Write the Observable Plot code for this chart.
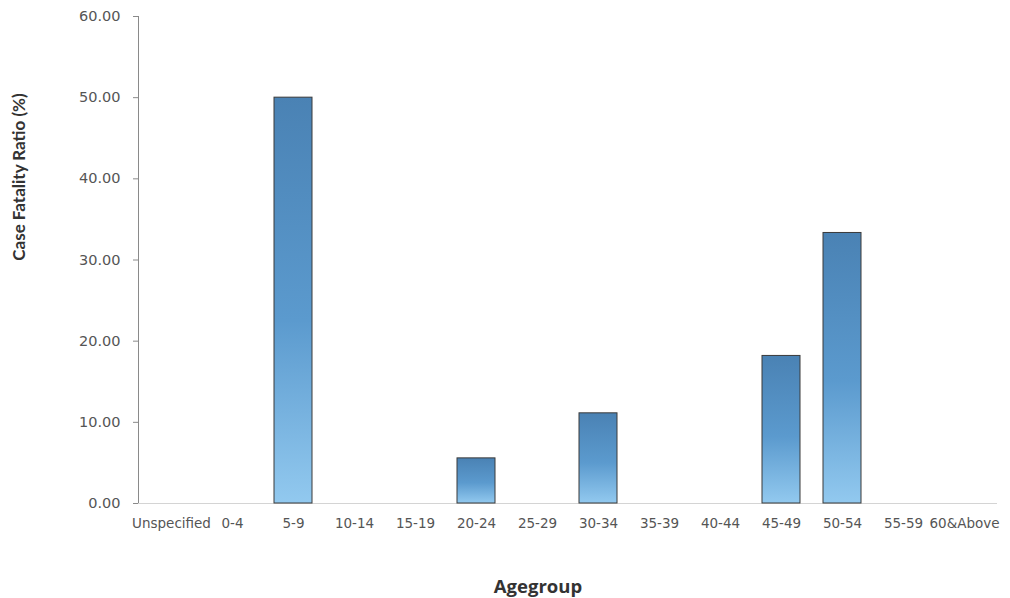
<!DOCTYPE html>
<html>
<head>
<meta charset="utf-8">
<script src="https://cdn.jsdelivr.net/npm/d3@7"></script>
<script src="https://cdn.jsdelivr.net/npm/@observablehq/plot@0.6"></script>
<style>
  html, body { margin: 0; padding: 0; background: #fff; }
  #chart { width: 1010px; height: 598px; }
</style>
</head>
<body>
<div id="chart"></div>
<script>
const ageGroups = ["Unspecified", "0-4", "5-9", "10-14", "15-19", "20-24", "25-29", "30-34", "35-39", "40-44", "45-49", "50-54", "55-59", "60&Above"];
const cfr = [0, 0, 50.00, 0, 0, 5.56, 0, 11.11, 0, 0, 18.18, 33.33, 0, 0];
const yTicks = [0, 10, 20, 30, 40, 50, 60];
const xTitle = "Agegroup";
const yTitle = "Case Fatality Ratio (%)";

const data = ageGroups.map((g, i) => ({group: g, value: cfr[i]}));

const svg = Plot.plot({
  width: 1010,
  height: 598,
  marginLeft: 138,
  marginRight: 13,
  marginTop: 16,
  marginBottom: 95,
  style: {fontFamily: "'DejaVu Sans', sans-serif", fontSize: "14px", color: "#555", background: "#fff"},
  x: {domain: ageGroups, paddingInner: 0.38, paddingOuter: 0.19, label: null},
  y: {domain: [0, 60], label: null},
  marks: [
    Plot.ruleY([0], {stroke: "#d4d4d4", strokeWidth: 1}),
    Plot.barY(data.filter(d => d.value > 0), {x: "group", y: "value", fill: "url(#barGrad)", stroke: "#3a3a3a", strokeWidth: 1}),
    Plot.axisX({tickSize: 0, tickPadding: 15, label: null, fontSize: 13.5}),
    Plot.axisY({ticks: yTicks, tickSize: 5, tickPadding: 13, tickFormat: d => d.toFixed(2), label: null, fontSize: 14.5})
  ]
});

// gradient definition for bars
const ns = "http://www.w3.org/2000/svg";
const defs = document.createElementNS(ns, "defs");
defs.innerHTML = `<linearGradient id="barGrad" x1="0" y1="0" x2="0" y2="1">
  <stop offset="0%" stop-color="#4a82b4"/>
  <stop offset="55%" stop-color="#5b9ace"/>
  <stop offset="100%" stop-color="#92c9ef"/>
</linearGradient>`;
svg.insertBefore(defs, svg.firstChild);

const sel = d3.select(svg);
// y axis line
sel.append("line")
  .attr("x1", 138.5).attr("x2", 138.5)
  .attr("y1", 16).attr("y2", 503)
  .attr("stroke", "#8a8a8a").attr("stroke-width", 1);
sel.selectAll("g[aria-label='y-axis tick'] path").attr("stroke", "#8a8a8a");

// axis titles
sel.append("text")
  .attr("transform", "translate(25,177) rotate(-90)")
  .attr("text-anchor", "middle")
  .attr("font-family", "Lato, 'Open Sans', sans-serif")
  .attr("font-weight", "bold").attr("font-size", 17).attr("fill", "#333")
  .text(yTitle);
sel.append("text")
  .attr("x", 538).attr("y", 593)
  .attr("text-anchor", "middle")
  .attr("font-family", "'Open Sans', sans-serif")
  .attr("font-weight", "bold").attr("font-size", 18.5).attr("fill", "#333")
  .text(xTitle);

document.getElementById("chart").appendChild(svg);
</script>
</body>
</html>
